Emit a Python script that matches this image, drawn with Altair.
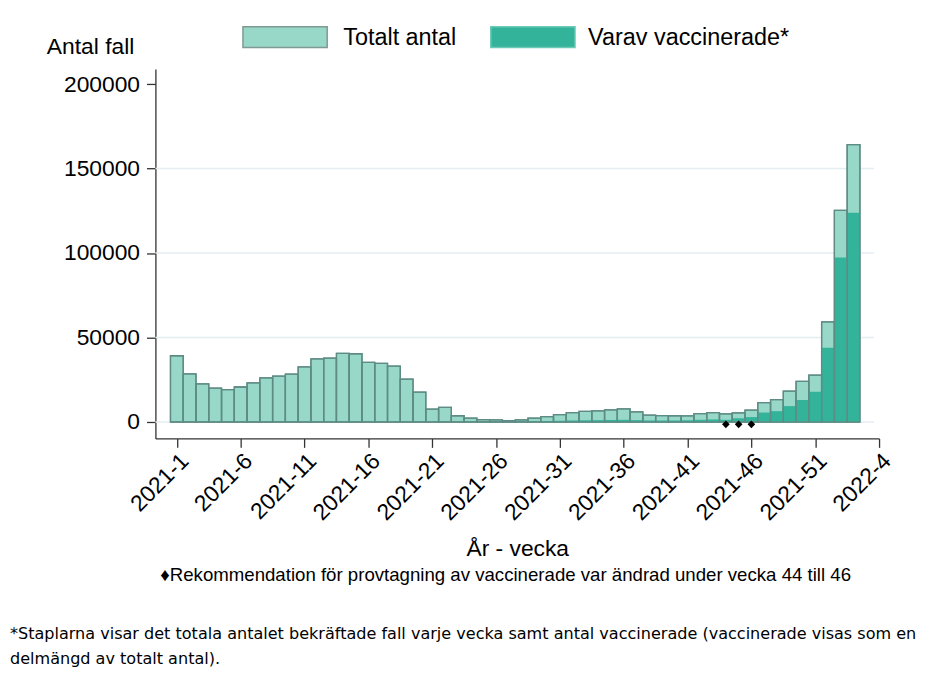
import altair as alt
import pandas as pd

weeks = [
    "2021-1", "2021-2", "2021-3", "2021-4", "2021-5", "2021-6", "2021-7", "2021-8", "2021-9", "2021-10",
    "2021-11", "2021-12", "2021-13", "2021-14", "2021-15", "2021-16", "2021-17", "2021-18", "2021-19", "2021-20",
    "2021-21", "2021-22", "2021-23", "2021-24", "2021-25", "2021-26", "2021-27", "2021-28", "2021-29", "2021-30",
    "2021-31", "2021-32", "2021-33", "2021-34", "2021-35", "2021-36", "2021-37", "2021-38", "2021-39", "2021-40",
    "2021-41", "2021-42", "2021-43", "2021-44", "2021-45", "2021-46", "2021-47", "2021-48", "2021-49", "2021-50",
    "2021-51", "2021-52", "2022-1", "2022-2",
]
total_cases = [
    39200, 28500, 22600, 20100, 19100, 20700, 23200, 26100, 27100, 28300,
    32600, 37300, 37800, 40600, 40400, 35300, 34700, 33100, 25400, 17700,
    7600, 8600, 3700, 2300, 1400, 1200, 800, 1300, 2300, 3200,
    4400, 5500, 6300, 6600, 7200, 7800, 6000, 4000, 3800, 3700,
    3600, 5000, 5600, 4800, 5400, 7000, 11500, 13200, 18300, 24100,
    27700, 59300, 125200, 164200,
]
vaccinated_cases = [
    0, 0, 0, 0, 0, 0, 0, 0, 0, 0,
    0, 0, 0, 0, 0, 0, 0, 0, 0, 0,
    0, 0, 100, 100, 100, 100, 100, 200, 300, 500,
    700, 900, 1000, 1100, 1200, 1300, 1100, 900, 900, 900,
    1000, 1300, 1500, 1300, 2200, 2900, 5600, 6400, 9400, 13000,
    17900, 43900, 97300, 123800,
]
marker_weeks = ["2021-44", "2021-45", "2021-46"]
marker_level = -1400

tick_positions = [0, 5, 10, 15, 20, 25, 30, 35, 40, 45, 50, 55]
tick_labels = ["2021-1", "2021-6", "2021-11", "2021-16", "2021-21", "2021-26",
               "2021-31", "2021-36", "2021-41", "2021-46", "2021-51", "2022-4"]
y_ticks = [0, 50000, 100000, 150000, 200000]
grid_values = [0, 50000, 100000, 150000]
legend_labels = ["Totalt antal", "Varav vaccinerade*"]

y_title = "Antal fall"
x_title = "År - vecka"
note_text = "♦Rekommendation för provtagning av vaccinerade var ändrad under vecka 44 till 46"
footnote_lines = [
    "*Staplarna visar det totala antalet bekräftade fall varje vecka samt antal vaccinerade (vaccinerade visas som en",
    "delmängd av totalt antal).",
]

LIGHT = "#98d8c9"
DARK = "#33b39a"
OUTLINE = "#5e8c84"
FONT = "Liberation Sans"

df = pd.DataFrame({
    "week": weeks,
    "idx": list(range(len(weeks))),
    "total": total_cases,
    "vacc": vaccinated_cases,
})
df_mark = pd.DataFrame({
    "week": marker_weeks,
    "idx": [weeks.index(w) for w in marker_weeks],
    "level": [marker_level] * len(marker_weeks),
})
df_grid = pd.DataFrame({"g": grid_values})

label_expr = "[" + ",".join("'" + t + "'" for t in tick_labels) + "][round(datum.value/5)]"

x_scale = alt.Scale(domain=[-1.68, 55], nice=False, zero=False)
y_scale = alt.Scale(domain=[-9740, 208900], nice=False, zero=False)

x_axis = alt.Axis(
    values=tick_positions, labelExpr=label_expr, labelAngle=315, labelAlign="right",
    labelBaseline="top", labelPadding=2, tickSize=9, grid=False, title=x_title,
    titleY=118, titleBaseline="alphabetic", labelFontSize=23, titleFontSize=23,
    labelFont=FONT, titleFont=FONT, titleFontWeight="normal", domainColor="#333333",
    tickColor="#333333", labelColor="#000000", titleColor="#000000", domainWidth=1.3,
    tickWidth=1.3, labelOverlap=False, labelFlush=False,
)
y_axis = alt.Axis(
    values=y_ticks, format="d", tickSize=9, labelPadding=7, grid=False, title=y_title,
    titleAngle=0, titleAlign="left", titleBaseline="alphabetic", titleX=-110, titleY=-16,
    labelFontSize=23, titleFontSize=23, labelFont=FONT, titleFont=FONT,
    titleFontWeight="normal", domainColor="#333333", tickColor="#333333",
    labelColor="#000000", titleColor="#000000", domainWidth=1.3, tickWidth=1.3,
    labelOverlap=False, labelFlush=False,
)


def xenc(field):
    return alt.X(field, type="quantitative", scale=x_scale, axis=x_axis)


def yenc(field):
    return alt.Y(field, type="quantitative", scale=y_scale, axis=y_axis)


grid = alt.Chart(df_grid).mark_rule(color="#e4edf0", strokeWidth=1.5).encode(
    y=yenc("g"), x=alt.value(0), x2=alt.value(725)
)

bars_base = alt.Chart(df).transform_calculate(
    x0="datum.idx - 0.5", x1="datum.idx + 0.5"
)

total_bars = bars_base.mark_bar(fill=LIGHT, stroke=OUTLINE, strokeWidth=1.3).encode(
    x=xenc("x0"), x2="x1:Q", y=yenc("total"), y2=alt.datum(0),
    tooltip=["week:N", "total:Q", "vacc:Q"],
)
vacc_bars = bars_base.mark_bar(fill=DARK, strokeWidth=0).encode(
    x=xenc("x0"), x2="x1:Q", y=yenc("vacc"), y2=alt.datum(0),
)
outline_bars = bars_base.mark_bar(fillOpacity=0, stroke=OUTLINE, strokeWidth=1.3).encode(
    x=xenc("x0"), x2="x1:Q", y=yenc("total"), y2=alt.datum(0),
)

markers = alt.Chart(df_mark).mark_point(shape="diamond", filled=True, color="#000000",
                                         size=60, opacity=1).encode(
    x=xenc("idx"), y=yenc("level")
)


def text_layer(txt, x, y, size, align="left", font=FONT):
    return alt.Chart(pd.DataFrame({"t": [txt]})).mark_text(
        align=align, baseline="middle", fontSize=size, font=font, color="#000000"
    ).encode(x=alt.value(x), y=alt.value(y), text="t:N")


def swatch(x1, x2, y1, y2, fill, stroke):
    return alt.Chart(pd.DataFrame({"k": [1]})).mark_rect(
        fill=fill, stroke=stroke, strokeWidth=1.5
    ).encode(x=alt.value(x1), x2=alt.value(x2), y=alt.value(y1), y2=alt.value(y2))


legend = [
    swatch(88.3, 173.3, -42.7, -21.7, LIGHT, "#7f9993"),
    text_layer(legend_labels[0], 189.5, -31.5, 23.6),
    swatch(338.3, 423.3, -42.7, -21.7, DARK, "#6ccab6"),
    text_layer(legend_labels[1], 436.5, -31.5, 23.6),
]

notes = [
    text_layer(note_text, 353.3, 510.3, 18.8, align="center"),
    text_layer(footnote_lines[0], -146.7, 570.3, 16.2, font="DejaVu Sans"),
    text_layer(footnote_lines[1], -146.7, 595.3, 16.2, font="DejaVu Sans"),
]

chart = alt.layer(
    grid, total_bars, vacc_bars, outline_bars, markers, *legend, *notes
).properties(
    width=730, height=372.6,
    autosize=alt.AutoSizeParams(type="none"),
    padding={"left": 148.7, "top": 58.7, "right": 42.3, "bottom": 233.7},
    background="white",
).configure_view(stroke=None)

chart.save("out.html", embed_options={"renderer": "svg", "actions": False})
